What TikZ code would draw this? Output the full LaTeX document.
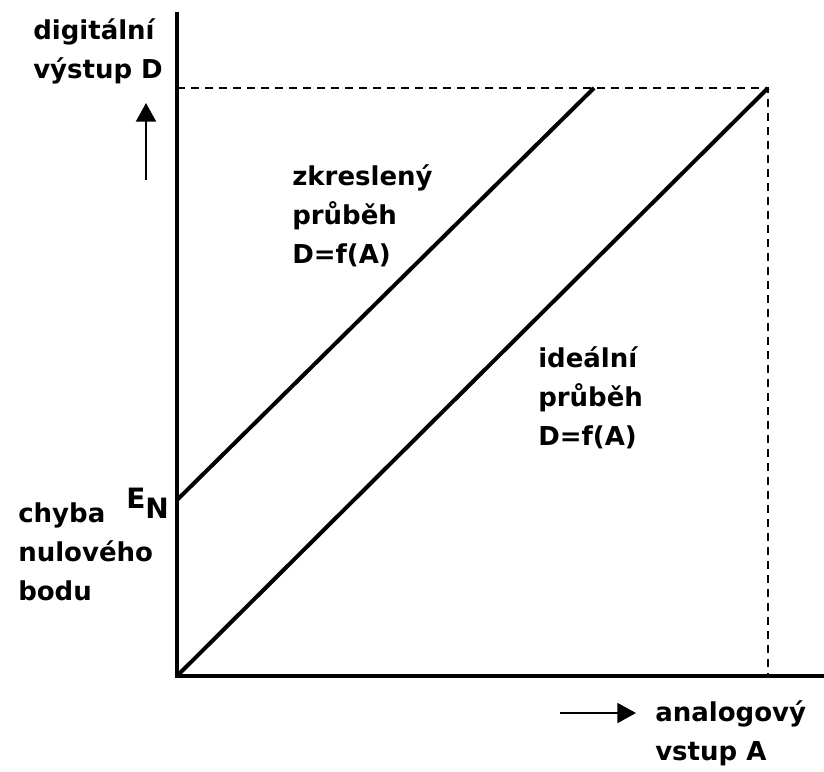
\documentclass[tikz,border=0pt]{standalone}
\usepackage{fontspec}
\setmainfont{DejaVu Sans}
\usetikzlibrary{arrows.meta}
\begin{document}
\begin{tikzpicture}[x=0.75pt,y=-0.75pt,
  lbl/.style={font=\bfseries\fontsize{19.5}{29}\selectfont, inner sep=0pt, align=left, anchor=base west},
  axis/.style={line width=3.5pt},
  graph/.style={line width=3pt},
  guide/.style={line width=1.5pt, dash pattern=on 6pt off 4.5pt},
  dir/.style={line width=1.5pt, -{Triangle[length=14pt,width=15pt]}}]
\useasboundingbox (0,0) rectangle (824,771);
\fill[white] (0,0) rectangle (824,771);
% key points
\coordinate (O) at (177,676);
\coordinate (Ytop) at (177,12);
\coordinate (Xend) at (824,676);
\coordinate (EN) at (177,500);
\coordinate (T) at (177,88);
\coordinate (Dend) at (594,88);
\coordinate (Iend) at (768,88);
\coordinate (Ibase) at (768,676);
\coordinate (ua0) at (146,180);
\coordinate (ua1) at (146,103);
\coordinate (ra0) at (560,713);
\coordinate (ra1) at (636,713);
% axes and guides
\draw[guide] (T) -- (Iend) -- (Ibase);
\draw[axis] (Ytop) -- (O) -- (Xend);
\draw[graph] (O) -- (Iend);
\draw[graph] (EN) -- (Dend);
\draw[dir] (ua0) -- (ua1);
\draw[dir] (ra0) -- (ra1);
% labels (anchor = baseline of last line)
\node[lbl] (yl) at (33,78) {digitální\\výstup D};
\node[lbl] (zk) at (292,263) {zkreslený\\průběh\\D=f(A)};
\node[lbl] (id) at (538,445) {ideální\\průběh\\D=f(A)};
\node[lbl] (ch) at (18,600) {chyba\\nulového\\bodu};
\node[lbl] (xl) at (655,760) {analogový\\vstup A};
\node[lbl, font=\bfseries\fontsize{21}{25}\selectfont] (en) at (126,508) {E\raisebox{-7.5pt}{N}};
\end{tikzpicture}
\end{document}
